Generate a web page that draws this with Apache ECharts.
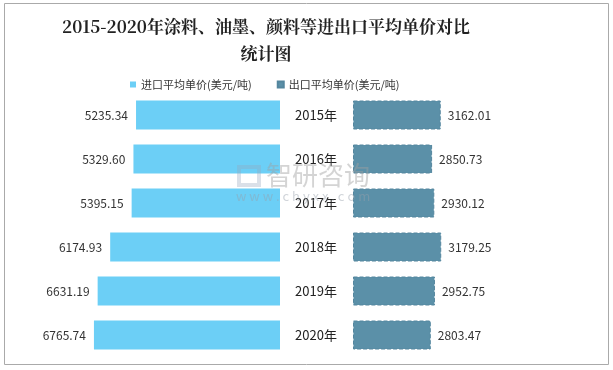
<!DOCTYPE html>
<html>
<head>
<meta charset="utf-8">
<script src="https://cdn.jsdelivr.net/npm/echarts@6/dist/echarts.min.js"></script>
<style>
html,body{margin:0;padding:0;background:#fff;}
#chart{width:613px;height:370px;}
</style>
</head>
<body>
<div id="chart"></div>
<script>
var categories = ['2015年','2016年','2017年','2018年','2019年','2020年'];
var importPrice = [5235.34, 5329.60, 5395.15, 6174.93, 6631.19, 6765.74];
var exportPrice = [3162.01, 2850.73, 2930.12, 3179.25, 2952.75, 2803.47];
var seriesNames = ['进口平均单价(美元/吨)', '出口平均单价(美元/吨)'];
var titleLines = ['2015-2020年涂料、油墨、颜料等进出口平均单价对比', '统计图'];

var chart = echarts.init(document.getElementById('chart'));
var font = '"Noto Sans CJK SC", "Noto Sans", sans-serif';
chart.setOption({
  animation: false,
  backgroundColor: '#fff',
  textStyle: {fontFamily: font},
  title: {
    text: titleLines.join('\n'),
    left: 261, top: 8,
    textAlign: 'center',
    textStyle: {fontFamily: '"Noto Serif CJK SC", "DejaVu Serif", serif', fontWeight: 'bold', fontSize: 17, lineHeight: 27, color: '#222'}
  },
  legend: {
    data: seriesNames,
    top: 74, left: 125,
    itemWidth: 6, itemHeight: 6, itemGap: 25,
    icon: 'rect',
    textStyle: {fontSize: 11, color: '#333', fontFamily: font}
  },
  graphic: [
    {type: 'rect', shape: {x: 4.5, y: 3.5, width: 604, height: 361}, style: {fill: 'none', stroke: '#aaa', lineWidth: 1}, silent: true},
    {type: 'text', left: 266, top: 162, style: {text: '智研咨询', fontSize: 26, fill: 'rgba(160,160,160,0.45)', fontFamily: font}, silent: true, z: 100},
    {type: 'text', left: 236, top: 190, style: {text: 'w w w . c h y x x . c o m', fontSize: 13, fill: 'rgba(150,160,170,0.45)', fontFamily: font}, silent: true, z: 100},
    {type: 'rect', shape: {x: 239, y: 167, width: 20, height: 18}, style: {fill: 'none', stroke: 'rgba(150,165,190,0.35)', lineWidth: 4}, silent: true, z: 100}
  ],
  grid: [
    {left: 60, right: 333, top: 93, height: 264},
    {left: 353, right: 38, top: 93, height: 264}
  ],
  xAxis: [
    {gridIndex: 0, type: 'value', inverse: true, min: 0, max: 8000, show: false},
    {gridIndex: 1, type: 'value', min: 0, max: 8000, show: false}
  ],
  yAxis: [
    {gridIndex: 0, type: 'category', data: categories, inverse: true, position: 'right',
     axisLine: {show: false}, axisTick: {show: false},
     axisLabel: {show: true, align: 'center', margin: 36, fontSize: 13, color: '#222', fontFamily: font}},
    {gridIndex: 1, type: 'category', data: categories, inverse: true,
     axisLine: {show: false}, axisTick: {show: false}, axisLabel: {show: false}}
  ],
  series: [
    {name: seriesNames[0], type: 'bar', xAxisIndex: 0, yAxisIndex: 0, data: importPrice, barWidth: 29,
     itemStyle: {color: '#6ccff6'},
     label: {show: true, position: 'left', distance: 8, fontSize: 12, color: '#333', formatter: function(p){return p.value.toFixed(2);}}},
    {name: seriesNames[1], type: 'bar', xAxisIndex: 1, yAxisIndex: 1, data: exportPrice, barWidth: 29,
     itemStyle: {color: '#5b90a8', borderColor: '#54869e', borderWidth: 1, borderType: 'dashed'},
     label: {show: true, position: 'right', distance: 7, fontSize: 12, color: '#333', formatter: function(p){return p.value.toFixed(2);}}}
  ]
});
</script>
</body>
</html>
